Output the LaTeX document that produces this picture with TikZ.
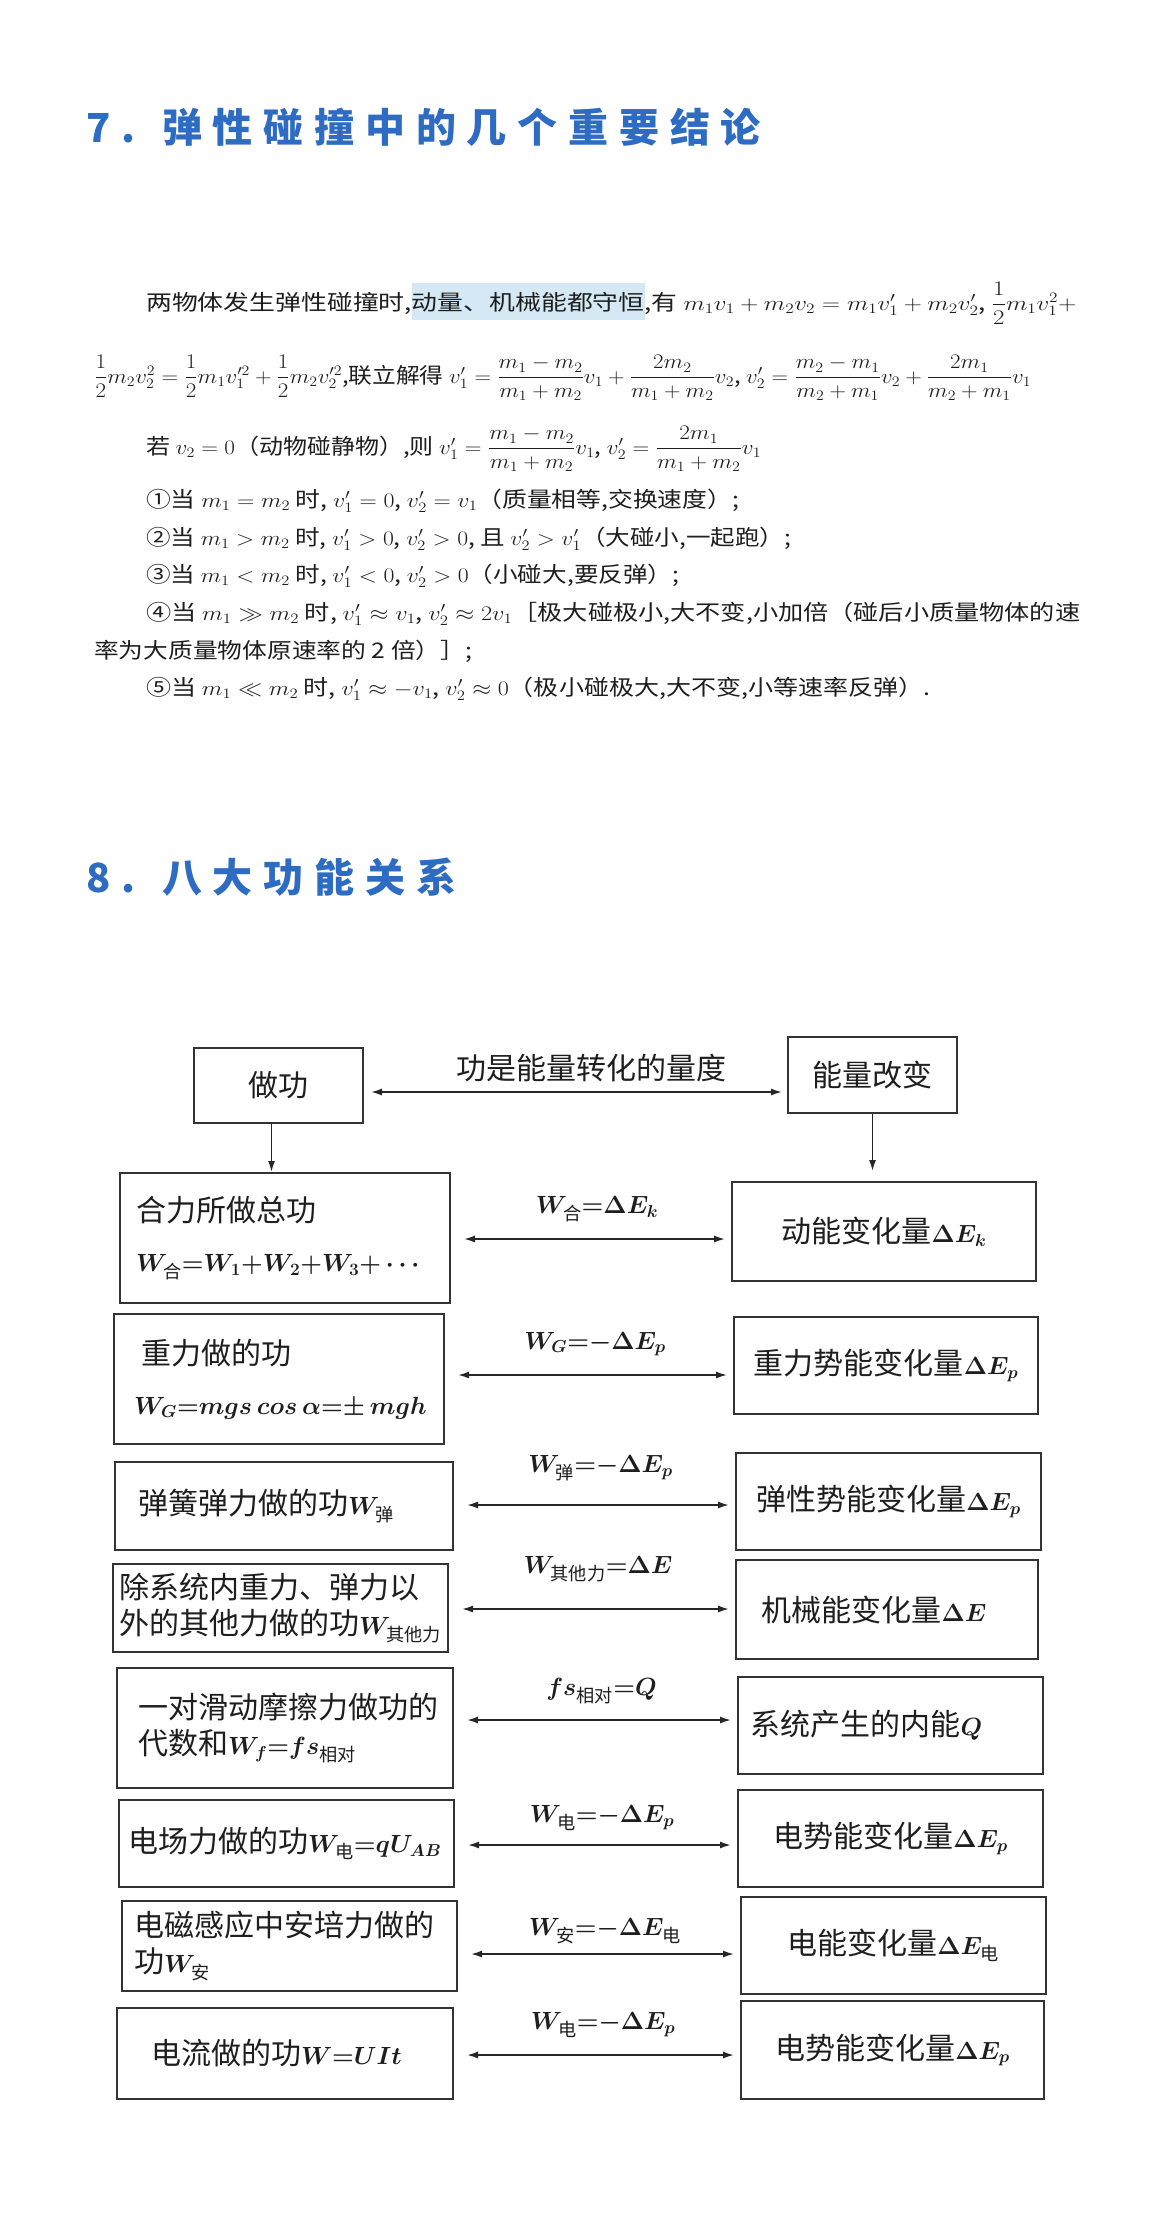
\documentclass[tikz,border=0pt]{standalone}
\usepackage{amsmath}
\usepackage{fontspec}
\setmainfont{Noto Sans CJK SC}
\usetikzlibrary{arrows.meta,calc,positioning}

\definecolor{titleblue}{RGB}{46,108,196}
\definecolor{hlblue}{RGB}{212,233,244}
\definecolor{inkgray}{RGB}{30,30,30}

\newcommand{\hz}[1]{\text{#1}}
\newcommand{\dm}[1]{{\fontsize{26}{30}\selectfont\boldmath$#1$}}
\newcommand{\hilite}[1]{{\setlength{\fboxsep}{0pt}\colorbox{hlblue}{\rule[-10pt]{0pt}{37pt}#1}}}
\newcommand{\fitline}[2]{\resizebox{#1pt}{\height}{#2}}

\begin{document}
\begin{tikzpicture}[x=1pt, y=-1pt,
  every node/.style={text=inkgray, inner sep=0pt},
  headline/.style={anchor=base west, text=titleblue,
    font=\fontsize{40}{48}\selectfont\bfseries\addfontfeature{LetterSpace=27}},
  para/.style={anchor=base west, font=\fontsize{21.5}{26}\selectfont},
  wbox/.style={draw=black!80, line width=2pt, rectangle, anchor=north west,
    font=\fontsize{30}{36}\selectfont},
  dblarr/.style={{Latex[length=11pt,width=7pt]}-{Latex[length=11pt,width=7pt]},
    line width=1.6pt, black!85},
  downarr/.style={-{Latex[length=11pt,width=7pt]}, line width=1.6pt, black!85}]
  \fill[white] (0,0) rectangle (1170,2217);
  \useasboundingbox (0,0) rectangle (1170,2217);

  % section 7
  \node[headline] (title7) at (86,142) {7. 弹性碰撞中的几个重要结论};
  \node[para] (p1) at (146,310) {\fitline{930}{两物体发生弹性碰撞时,\hilite{动量、机械能都守恒},有 $m_1v_1+m_2v_2=m_1v_1'+m_2v_2'$, $\dfrac{1}{2}m_1v_1^2+$}};
  \node[para] (p2) at (94,383) {\fitline{937}{$\dfrac{1}{2}m_2v_2^2=\dfrac{1}{2}m_1v_1'^2+\dfrac{1}{2}m_2v_2'^2$,联立解得 $v_1'=\dfrac{m_1-m_2}{m_1+m_2}v_1+\dfrac{2m_2}{m_1+m_2}v_2$, $v_2'=\dfrac{m_2-m_1}{m_2+m_1}v_2+\dfrac{2m_1}{m_2+m_1}v_1$}};
  \node[para] (p3) at (146,454) {\fitline{615}{若 $v_2=0$（动物碰静物）,则 $v_1'=\dfrac{m_1-m_2}{m_1+m_2}v_1$, $v_2'=\dfrac{2m_1}{m_1+m_2}v_1$}};
  \node[para] (c1) at (146,507) {\fitline{593}{①当 $m_1=m_2$ 时, $v_1'=0$, $v_2'=v_1$（质量相等,交换速度）;}};
  \node[para] (c2) at (146,545) {\fitline{645}{②当 $m_1>m_2$ 时, $v_1'>0$, $v_2'>0$, 且 $v_2'>v_1'$（大碰小,一起跑）;}};
  \node[para] (c3) at (146,582) {\fitline{533}{③当 $m_1<m_2$ 时, $v_1'<0$, $v_2'>0$（小碰大,要反弹）;}};
  \node[para] (c4) at (146,620) {\fitline{934}{④当 $m_1\gg m_2$ 时, $v_1'\approx v_1$, $v_2'\approx 2v_1$［极大碰极小,大不变,小加倍（碰后小质量物体的速}};
  \node[para] (c4b) at (94,658) {\fitline{378}{率为大质量物体原速率的 2 倍）］;}};
  \node[para] (c5) at (146,695) {\fitline{784}{⑤当 $m_1\ll m_2$ 时, $v_1'\approx -v_1$, $v_2'\approx 0$（极小碰极大,大不变,小等速率反弹）.}};

  % section 8
  \node[headline] (title8) at (86,892) {8. 八大功能关系};

  \node[wbox, minimum width=169pt, minimum height=75pt] (zuogong) at (193,1047) {做功};
  \node[wbox, minimum width=169pt, minimum height=76pt] (nengliang) at (787,1036) {能量改变};
  \node[font=\fontsize{30}{36}\selectfont] (measure) at (591,1068) {功是能量转化的量度};
  \draw[dblarr, shorten <=7pt, shorten >=5pt] ([yshift=-6.5pt]zuogong.east) -- ([yshift=-6.5pt]zuogong.east -| nengliang.west);

  \foreach \n/\x/\y/\w/\h/\pad/\txt in {
    1/119/1172/330/130/16/{合力所做总功\\[14pt]\dm{W_{\hz{合}}{=}W_1{+}W_2{+}W_3{+}\cdots}},
    2/113/1313/330/130/20/{\hspace*{7pt}重力做的功\\[14pt]\dm{W_G{=}mgs\,cos\,\alpha{=}{\pm}\,mgh}},
    3/114/1461/338/88/23/{弹簧弹力做的功\dm{W_{\hz{弹}}}},
    4/112/1563/335/88/6/{除系统内重力、弹力以\\外的其他力做的功\dm{W_{\hz{其他力}}}},
    5/116/1667/336/120/21/{一对滑动摩擦力做功的\\代数和\dm{W_f{=}fs_{\hz{相对}}}},
    6/118/1799/335/87/9/{电场力做的功\dm{W_{\hz{电}}{=}qU_{AB}}},
    7/121/1900/335/90/12/{电磁感应中安培力做的\\功\dm{W_{\hz{安}}}},
    8/116/2007/336/91/34/{电流做的功\dm{W{=}UIt}}}{
    \pgfmathsetmacro{\tw}{\w-2*\pad}
    \node[wbox, minimum width=\w pt, minimum height=\h pt, text width=\tw pt,
      inner xsep=\pad pt, align=left] (l\n) at (\x,\y) {\txt};
  }
  \foreach \n/\x/\y/\w/\h/\txt in {
    1/731/1181/304/99/{动能变化量\dm{\Delta E_k}},
    2/733/1316/304/97/{重力势能变化量\dm{\Delta E_p}},
    3/735/1452/305/97/{弹性势能变化量\dm{\Delta E_p}},
    4/735/1559/302/99/{机械能变化量\dm{\Delta E}\hspace*{26pt}},
    5/737/1676/305/97/{系统产生的内能\dm{Q}\hspace*{48pt}},
    6/737/1789/305/97/{电势能变化量\dm{\Delta E_p}},
    7/740/1896/305/97/{电能变化量\dm{\Delta E_{\hz{电}}}},
    8/740/2000/303/98/{电势能变化量\dm{\Delta E_p}}}{
    \pgfmathsetmacro{\tw}{\w-24}
    \node[wbox, minimum width=\w pt, minimum height=\h pt, text width=\tw pt,
      inner xsep=12pt, align=center] (r\n) at (\x,\y) {\txt};
  }

  \draw[downarr] ([xshift=-7pt]zuogong.south) -- ([xshift=-7pt]zuogong.south |- l1.north);
  \draw[downarr, shorten >=10pt] (nengliang.south) -- (nengliang.south |- r1.north);

  \foreach \n/\ay/\ly/\lab in {
    1/1239/1209/{\dm{W_{\hz{合}}{=}\Delta E_k}},
    2/1375/1344/{\dm{W_G{=}{-}\Delta E_p}},
    3/1505/1468/{\dm{W_{\hz{弹}}{=}{-}\Delta E_p}},
    4/1609/1569/{\dm{W_{\hz{其他力}}{=}\Delta E}},
    5/1720/1691/{\dm{fs_{\hz{相对}}{=}Q}},
    6/1845/1818/{\dm{W_{\hz{电}}{=}{-}\Delta E_p}},
    7/1954/1931/{\dm{W_{\hz{安}}{=}{-}\Delta E_{\hz{电}}}},
    8/2055/2025/{\dm{W_{\hz{电}}{=}{-}\Delta E_p}}}{
    \draw[dblarr, shorten <=13pt, shorten >=6pt] (l\n.east |- 0,\ay) -- (r\n.west |- 0,\ay);
    \path (l\n.east |- 0,\ly) -- (r\n.west |- 0,\ly) node[midway, xshift=6pt] (e\n) {\lab};
  }
\end{tikzpicture}
\end{document}
